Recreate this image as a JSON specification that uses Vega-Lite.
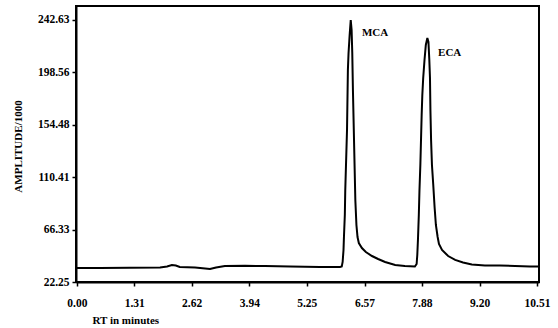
{
  "$schema": "https://vega.github.io/schema/vega-lite/v6.json",
  "width": 463,
  "height": 276,
  "autosize": {"type": "none"},
  "padding": {"left": 76, "top": 6, "right": 19, "bottom": 46},
  "background": "white",
  "config": {
    "view": {"stroke": "black", "strokeWidth": 2},
    "axis": {
      "labelFont": "Liberation Serif",
      "labelFontWeight": "bold",
      "labelFontSize": 11.5,
      "labelColor": "black",
      "titleFont": "Liberation Serif",
      "titleFontWeight": "bold",
      "titleFontSize": 11,
      "titleColor": "black",
      "domainColor": "black",
      "domainWidth": 2,
      "tickColor": "black",
      "tickWidth": 1.5,
      "tickSize": 4,
      "grid": false
    }
  },
  "datasets": {
    "trace": [
      {"t": 0.0, "v": 34.0},
      {"t": 0.53, "v": 34.0},
      {"t": 1.21, "v": 34.2},
      {"t": 1.9, "v": 34.45},
      {"t": 2.06, "v": 35.3},
      {"t": 2.17, "v": 36.55},
      {"t": 2.26, "v": 36.1},
      {"t": 2.35, "v": 34.9},
      {"t": 2.7, "v": 34.45},
      {"t": 2.93, "v": 33.6},
      {"t": 3.04, "v": 33.2},
      {"t": 3.18, "v": 34.45},
      {"t": 3.38, "v": 35.7},
      {"t": 3.84, "v": 35.9},
      {"t": 4.3, "v": 35.7},
      {"t": 4.87, "v": 35.3},
      {"t": 5.55, "v": 34.9},
      {"t": 6.01, "v": 34.9},
      {"t": 6.05, "v": 35.3},
      {"t": 6.07, "v": 39.1},
      {"t": 6.09, "v": 49.2},
      {"t": 6.1, "v": 60.1},
      {"t": 6.12, "v": 78.6},
      {"t": 6.13, "v": 99.6},
      {"t": 6.15, "v": 124.9},
      {"t": 6.17, "v": 150.1},
      {"t": 6.18, "v": 175.3},
      {"t": 6.19, "v": 200.6},
      {"t": 6.205, "v": 214.9},
      {"t": 6.23, "v": 230.0},
      {"t": 6.255, "v": 242.6},
      {"t": 6.275, "v": 234.2},
      {"t": 6.29, "v": 214.9},
      {"t": 6.305, "v": 183.7},
      {"t": 6.325, "v": 150.1},
      {"t": 6.345, "v": 116.5},
      {"t": 6.36, "v": 91.2},
      {"t": 6.385, "v": 70.2},
      {"t": 6.41, "v": 60.1},
      {"t": 6.44, "v": 55.0},
      {"t": 6.51, "v": 50.8},
      {"t": 6.6, "v": 47.5},
      {"t": 6.74, "v": 44.1},
      {"t": 6.88, "v": 41.6},
      {"t": 7.04, "v": 39.1},
      {"t": 7.27, "v": 36.55},
      {"t": 7.49, "v": 35.7},
      {"t": 7.72, "v": 35.3},
      {"t": 7.76, "v": 37.4},
      {"t": 7.775, "v": 44.96},
      {"t": 7.79, "v": 57.6},
      {"t": 7.81, "v": 78.6},
      {"t": 7.825, "v": 99.6},
      {"t": 7.845, "v": 120.7},
      {"t": 7.86, "v": 141.7},
      {"t": 7.875, "v": 162.7},
      {"t": 7.89, "v": 179.5},
      {"t": 7.91, "v": 193.8},
      {"t": 7.94, "v": 209.0},
      {"t": 7.97, "v": 221.6},
      {"t": 8.005, "v": 227.5},
      {"t": 8.03, "v": 224.1},
      {"t": 8.05, "v": 209.0},
      {"t": 8.065, "v": 193.8},
      {"t": 8.075, "v": 166.9},
      {"t": 8.09, "v": 141.7},
      {"t": 8.11, "v": 120.7},
      {"t": 8.14, "v": 103.8},
      {"t": 8.17, "v": 85.3},
      {"t": 8.2, "v": 70.2},
      {"t": 8.24, "v": 60.1},
      {"t": 8.27, "v": 54.2},
      {"t": 8.34, "v": 49.2},
      {"t": 8.48, "v": 44.1},
      {"t": 8.64, "v": 40.8},
      {"t": 8.82, "v": 38.65},
      {"t": 9.02, "v": 36.97},
      {"t": 9.32, "v": 36.1},
      {"t": 9.66, "v": 36.1},
      {"t": 10.01, "v": 35.7},
      {"t": 10.35, "v": 35.3},
      {"t": 10.55, "v": 35.3}
    ],
    "labels": [
      {"label": "MCA", "t": 6.51, "v": 231.8},
      {"label": "ECA", "t": 8.25, "v": 215.0}
    ]
  },
  "layer": [
    {
      "data": {"name": "trace"},
      "mark": {"type": "line", "color": "black", "strokeWidth": 2, "interpolate": "linear", "clip": true},
      "encoding": {
        "x": {
          "field": "t",
          "type": "quantitative",
          "scale": {"domain": [-0.02, 10.555], "nice": false, "zero": false},
          "axis": {
            "title": "RT in minutes",
            "titleX": 16,
            "titleY": 38,
            "titleAlign": "left",
            "titleBaseline": "middle",
            "values": [0, 0.655, 1.31, 1.965, 2.62, 3.28, 3.94, 4.595, 5.25, 5.91, 6.57, 7.225, 7.88, 8.54, 9.2, 9.855, 10.51],
            "labelExpr": "indexof([0, 1.31, 2.62, 3.94, 5.25, 6.57, 7.88, 9.2, 10.51], datum.value) >= 0 ? format(datum.value, '.2f') : ''",
            "labelPadding": 11,
            "labelFlush": false,
            "labelOverlap": false
          }
        },
        "y": {
          "field": "v",
          "type": "quantitative",
          "scale": {"domain": [22.25, 254.4], "nice": false, "zero": false},
          "axis": {
            "title": "AMPLITUDE/1000",
            "titleX": -58,
            "titleY": 140,
            "titleAngle": 270,
            "titleAlign": "center",
            "titleBaseline": "middle",
            "values": [22.25, 44.29, 66.33, 88.37, 110.41, 132.45, 154.48, 176.52, 198.56, 220.6, 242.63],
            "labelExpr": "indexof([22.25, 66.33, 110.41, 154.48, 198.56, 242.63], datum.value) >= 0 ? format(datum.value, '.2f') : ''",
            "labelPadding": 3,
            "labelFlush": false,
            "labelOverlap": false
          }
        }
      }
    },
    {
      "data": {"name": "labels"},
      "mark": {"type": "text", "font": "Liberation Serif", "fontWeight": "bold", "fontSize": 11, "color": "black", "align": "left", "baseline": "middle"},
      "encoding": {
        "x": {"field": "t", "type": "quantitative"},
        "y": {"field": "v", "type": "quantitative"},
        "text": {"field": "label"}
      }
    }
  ]
}
